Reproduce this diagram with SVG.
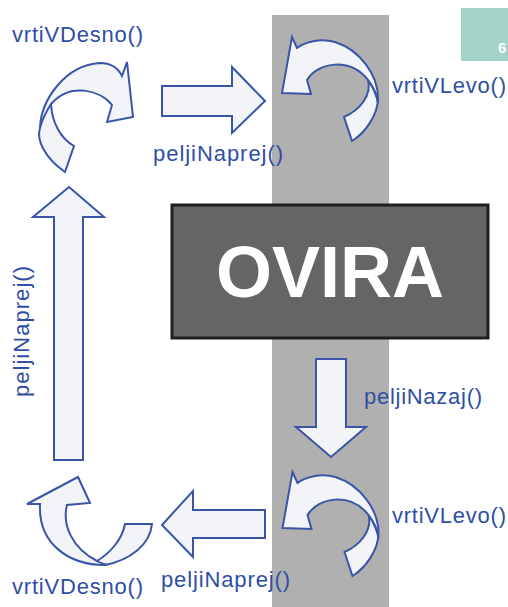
<svg xmlns="http://www.w3.org/2000/svg" width="508" height="607" viewBox="0 0 508 607">
<defs>
<style>
.arr{fill:#f3f4f7;stroke:#3a55a8;stroke-width:2;stroke-linejoin:miter}
.ln{fill:none;stroke:#3a55a8;stroke-width:2}
.lbl{font-family:"Liberation Sans",Arial,sans-serif;font-size:22px;fill:#2f4ea6}
</style>
<path id="ccw" d="M352,141 C365,133 378,115 378,98 C378,75 360,50 335,42 C320,38 305,42 297,48 L292,37 L282,93 L311,94 L307,80 C318,62 350,57 368,80 C372,95 360,110 344,117 Z M368,80 C374,88 377,95 378,103"/>
</defs>
<rect width="508" height="607" fill="#ffffff"/>
<g id="obstacle">
<rect x="272" y="15" width="117" height="592" fill="#b0b0b0"/>
<rect x="172" y="205" width="316" height="133" fill="#656565" stroke="#1e1e1e" stroke-width="3"/>
<text x="330" y="297" text-anchor="middle" font-family="Liberation Sans,Arial,sans-serif" font-weight="bold" font-size="72" fill="#ffffff">OVIRA</text>
</g>
<g id="page-tag">
<rect x="461" y="8" width="47" height="53" fill="#a2d3c6"/>
<text x="498" y="53" font-family="Liberation Sans,Arial,sans-serif" font-weight="bold" font-size="15" fill="#ffffff">6</text>
</g>
<g id="connectors">
<g id="turn-right-top">
<path class="arr" d="M65,172 C45,158 36,140 40,128 C41,100 65,65 100,63 C110,63 118,68 122,76 L127,62 L133,117 L107,122 L112,105 C100,90 70,82 51,104 C52,122 60,138 74,146 Z"/>
<path class="ln" d="M51,104 C46,112 42,120 40,128"/>
<text class="lbl" x="12" y="42" textLength="131">vrtiVDesno()</text>
</g>
<g id="forward-top">
<path class="arr" d="M162,86 L232,86 L232,67 L265,101 L232,133 L232,116 L162,116 Z"/>
<text class="lbl" x="153" y="161" textLength="130">peljiNaprej()</text>
</g>
<g id="turn-left-top">
<use href="#ccw" class="arr"/>
<path class="ln" d="M368,80 C374,88 377,95 378,103"/>
<text class="lbl" x="392" y="93" textLength="114">vrtiVLevo()</text>
</g>
<g id="backward">
<path class="arr" d="M316,359 L346,359 L346,427 L366,427 L331,457 L296,427 L316,427 Z"/>
<text class="lbl" x="364" y="404" textLength="118">peljiNazaj()</text>
</g>
<g id="turn-left-bottom">
<use href="#ccw" class="arr" transform="translate(0.5,435)"/>
<path class="ln" transform="translate(0.5,435)" d="M368,80 C374,88 377,95 378,103"/>
<text class="lbl" x="392" y="523" textLength="114">vrtiVLevo()</text>
</g>
<g id="forward-bottom">
<path class="arr" d="M265,510 L193,510 L193,491 L162,525 L193,557 L193,538 L265,538 Z"/>
<text class="lbl" x="161" y="587" textLength="129">peljiNaprej()</text>
</g>
<g id="turn-right-bottom">
<path class="arr" d="M152,524 C150,545 130,560 105,565 C70,565 38,545 40,504 L27,504 L78,477 L90,503 L67,505 C62,525 72,548 97,561 C110,553 122,540 125,524 Z"/>
<path class="ln" d="M97,561 C100,563 103,564 107,565"/>
<text class="lbl" x="12" y="594" textLength="131">vrtiVDesno()</text>
</g>
<g id="forward-left">
<path class="arr" d="M54,460 L54,217 L33,217 L69,187 L104,217 L83,217 L83,460 Z"/>
<text class="lbl" transform="translate(29,397) rotate(-90)" x="0" y="0" textLength="131">peljiNaprej()</text>
</g>
</g>
</svg>
